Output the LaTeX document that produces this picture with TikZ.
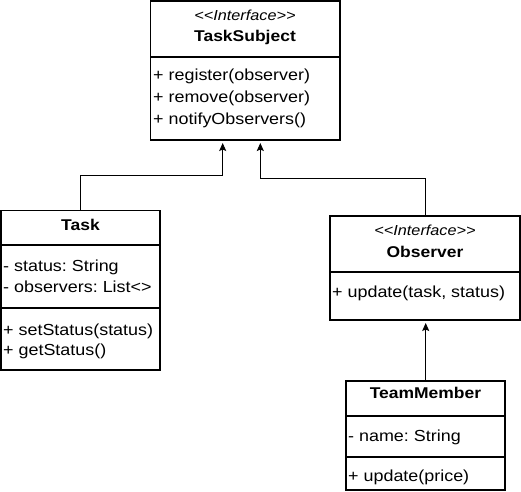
\documentclass[tikz,border=0pt]{standalone}
\usepackage{fontspec}
\setmainfont{Liberation Sans}[FakeStretch=1.12]
\usetikzlibrary{arrows.meta}
\frenchspacing
\begin{document}
\begin{tikzpicture}[x=1pt,y=-1pt,
  box/.style={draw=black,line width=1.3pt},
  divider/.style={draw=black,line width=1.8pt},
  txt/.style={inner sep=0pt,anchor=west,font=\fontsize{16}{18}\selectfont},
  ttl/.style={inner sep=0pt,font=\fontsize{15.6}{18}\selectfont\bfseries},
  ster/.style={inner sep=0pt,font=\fontsize{14.5}{17}\selectfont\itshape},
  conn/.style={draw=black,line width=1pt,-{Stealth[length=8pt,width=7pt,inset=1.5pt]}},
  lnk/.style={draw=black,line width=1pt}]
\useasboundingbox (0,0) rectangle (521,491);
\fill[white] (0,0) rectangle (521,491);

% TaskSubject
\draw[box] (150.5,1) rectangle (340,140);
\draw[divider] (150.5,57) -- (340,57);
\node[ster] (tsst) at (245,15) {<{}<Interface>{}>};
\node[ttl] (tstitle) at (245,37) {TaskSubject};
\node[txt] (tsm1) at (153,76) {+ register(observer)};
\node[txt] (tsm2) at (153,98) {+ remove(observer)};
\node[txt] (tsm3) at (153,120) {+ notifyObservers()};
\coordinate (tsL) at (222.7,143);
\coordinate (tsR) at (260.3,143);

% Task
\draw[box] (1,210.7) rectangle (160,370);
\draw[divider] (1,245) -- (160,245);
\draw[divider] (1,308) -- (160,308);
\node[ttl] (tasktitle) at (80.5,225) {Task};
\node[txt] (ta1) at (3,267) {- status: String};
\node[txt] (ta2) at (3,287) {- observers: List<{}>};
\node[txt] (tm1) at (3,331.5) {+ setStatus(status)};
\node[txt] (tm2) at (3,351.5) {+ getStatus()};
\coordinate (taskT) at (80.7,210.7);

% Observer
\draw[box] (330,216) rectangle (520,320);
\draw[divider] (330,271.7) -- (520,271.7);
\node[ster] (obst) at (425,230) {<{}<Interface>{}>};
\node[ttl] (obtitle) at (425,252) {Observer};
\node[txt] (obm1) at (332,293) {+ update(task, status)};
\coordinate (obT) at (425.7,216);
\coordinate (obB) at (425.7,323);

% TeamMember
\draw[box] (346,381) rectangle (505,490);
\draw[divider] (346,415.7) -- (505,415.7);
\draw[divider] (346,457) -- (505,457);
\node[ttl] (tmtitle) at (425.5,393) {TeamMember};
\node[txt] (tma1) at (348,437) {- name: String};
\node[txt] (tmm1) at (348,477) {+ update(price)};
\coordinate (tmT) at (425.7,381);

% connectors
\draw[conn] (taskT) |- (222.7,175) -- (tsL);
\draw[conn] (obT) |- (260.3,178) -- (tsR);
\draw[conn] (tmT) -- (obB);
\end{tikzpicture}
\end{document}
